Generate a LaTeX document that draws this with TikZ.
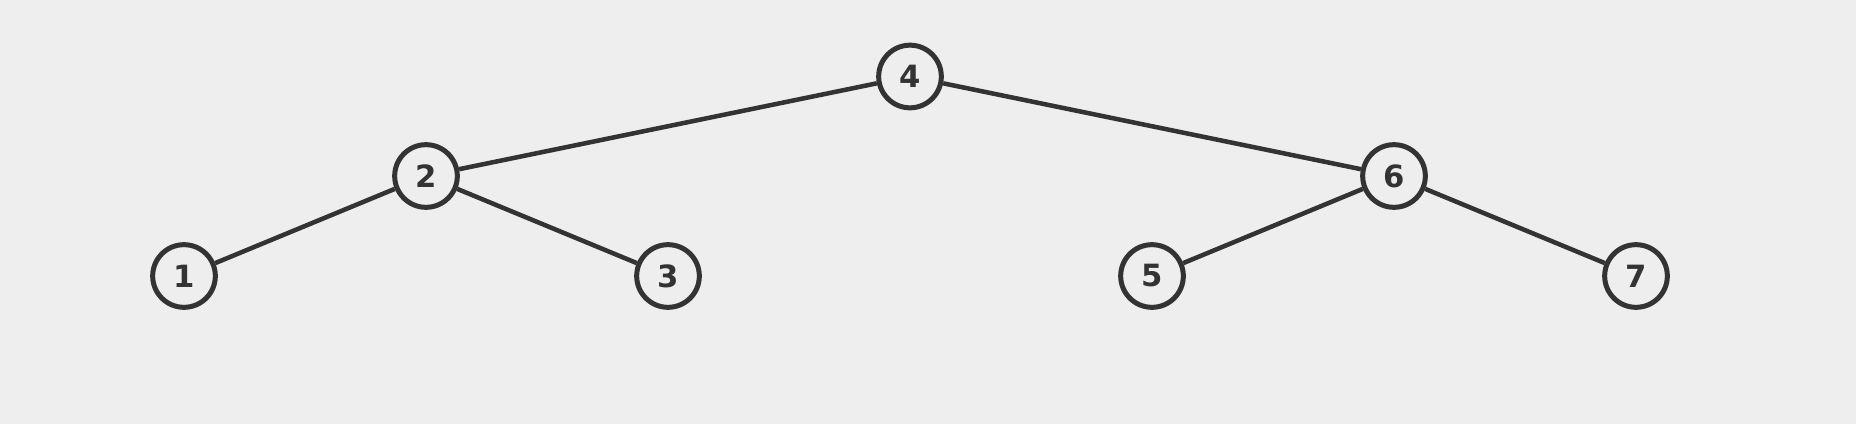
\documentclass[tikz,border=0pt]{standalone}
\usepackage{fontspec}
\setmainfont{DejaVu Sans}
\definecolor{bg}{HTML}{EEEEEE}
\definecolor{ink}{HTML}{333333}
\begin{document}
\begin{tikzpicture}[x=0.75pt,y=-0.75pt,
  treenode/.style={circle,draw=ink,line width=3.75pt,fill=bg,minimum size=47pt,inner sep=0pt,
    text=ink,font=\fontsize{23}{23}\selectfont\bfseries},
  treeedge/.style={draw=ink,line width=3.4pt}]
\fill[bg] (0,0) rectangle (1856,424);
\useasboundingbox (0,0) rectangle (1856,424);
\node[treenode] (n4) at (910,76.5) {4};
\node[treenode] (n2) at (426,176) {2};
\node[treenode] (n6) at (1394,176) {6};
\node[treenode] (n1) at (184,276) {1};
\node[treenode] (n3) at (668,276) {3};
\node[treenode] (n5) at (1152,276) {5};
\node[treenode] (n7) at (1636,276) {7};
\draw[treeedge] (n4) -- (n2);
\draw[treeedge] (n4) -- (n6);
\draw[treeedge] (n2) -- (n1);
\draw[treeedge] (n2) -- (n3);
\draw[treeedge] (n6) -- (n5);
\draw[treeedge] (n6) -- (n7);
\end{tikzpicture}
\end{document}
